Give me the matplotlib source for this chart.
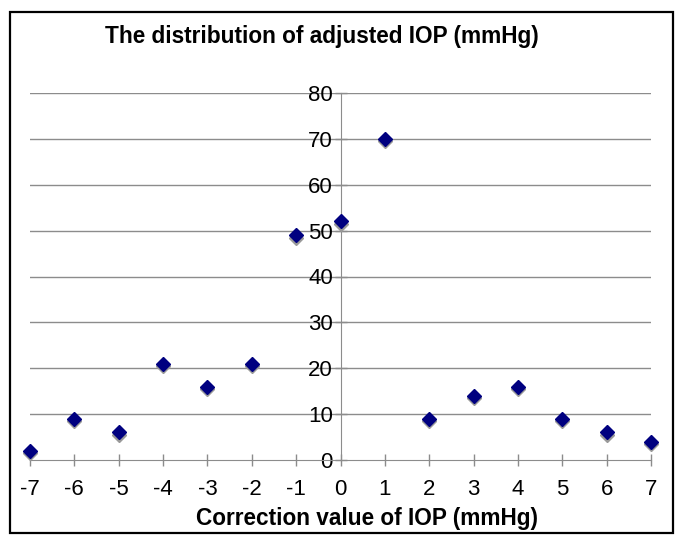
import matplotlib
matplotlib.use("Agg")
import matplotlib.pyplot as plt
import matplotlib.transforms as mtransforms
from matplotlib.patches import Rectangle

plt.rcParams["font.family"] = ["Liberation Sans", "DejaVu Sans"]
plt.rcParams["axes.unicode_minus"] = False

# Data
correction = [-7, -6, -5, -4, -3, -2, -1, 0, 1, 2, 3, 4, 5, 6, 7]
counts = [2, 9, 6, 21, 16, 21, 49, 52, 70, 9, 14, 16, 9, 6, 4]
y_ticks = [0, 10, 20, 30, 40, 50, 60, 70, 80]

fig = plt.figure(figsize=(6.85, 5.53), dpi=100)
ax = fig.add_axes([30 / 685, 1 - 460 / 553, (651 - 30) / 685, (460 - 93) / 553])

# outer border
fig.patches.append(Rectangle((10 / 685, 1 - 533 / 553), 663 / 685, 521 / 553,
                             transform=fig.transFigure, fill=False,
                             edgecolor="black", linewidth=1.6))

# gridlines
for yv in y_ticks[1:]:
    ax.axhline(yv, color="#8c8c8c", linewidth=1.0, zorder=1)

# shadow then markers
shadow = mtransforms.offset_copy(ax.transData, fig=fig, x=0, y=-2.5, units="dots")
ax.plot(correction, counts, "D", color="#999999", markersize=7.5,
        transform=shadow, zorder=3, clip_on=False)
ax.plot(correction, counts, "D", color="#000080", markersize=7.5,
        zorder=4, clip_on=False)

ax.set_xlim(-7, 7)
ax.set_ylim(0, 80)
ax.set_xticks(correction)
ax.set_yticks(y_ticks)

for s in ["top", "right"]:
    ax.spines[s].set_visible(False)
ax.spines["left"].set_position(("data", 0))
ax.spines["left"].set_color("#8c8c8c")
ax.spines["bottom"].set_color("#8c8c8c")

ax.tick_params(axis="y", direction="inout", length=9, width=1,
               color="#8c8c8c", labelsize=16, pad=1)
ax.tick_params(axis="x", direction="inout", length=9, width=1,
               color="#8c8c8c", labelsize=16, pad=9)

fig.text(322 / 685, 1 - 36 / 553, "The distribution of adjusted IOP (mmHg)",
         ha="center", va="center", fontsize=16.3, fontweight="bold")
fig.text(367 / 685, 1 - 518 / 553, "Correction value of IOP (mmHg)",
         ha="center", va="center", fontsize=16.3, fontweight="bold")

fig.savefig("out.png", dpi=100)
